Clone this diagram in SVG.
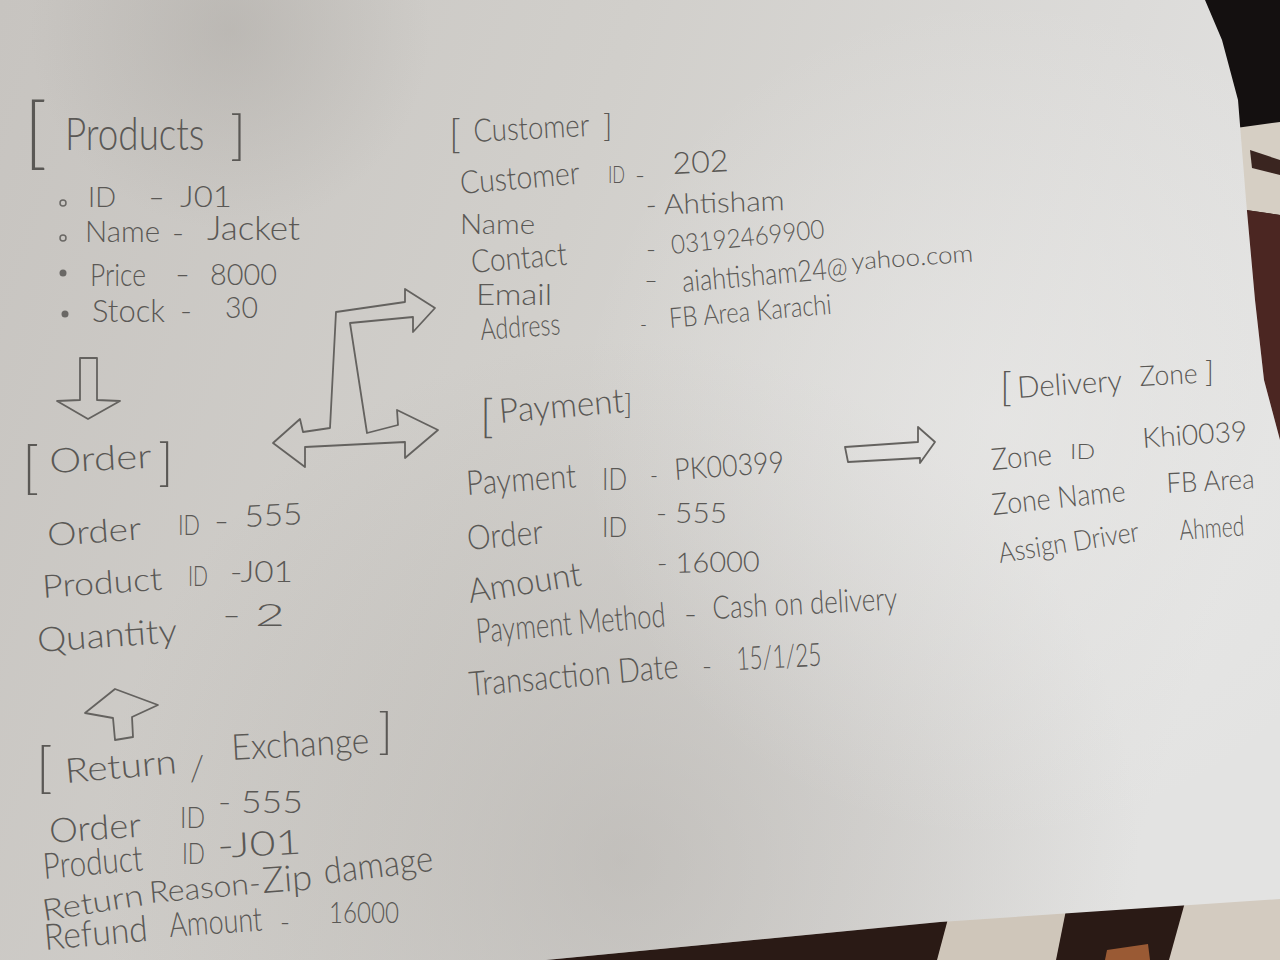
<svg xmlns="http://www.w3.org/2000/svg" width="1280" height="960" viewBox="0 0 1280 960">
  <defs>
    <style>
      .t { font-family: Lato, "Open Sans", "DejaVu Sans", sans-serif; font-weight: 300; fill: #5a5855; }
      .a { fill: none; stroke: #64625f; stroke-width: 1.8; stroke-linejoin: round; stroke-linecap: round; }
      .dot { fill: #6a6865; }
      .ring { fill: none; stroke: #6a6865; stroke-width: 1.5; }
    </style>
    <linearGradient id="paper" x1="0" y1="0" x2="1280" y2="420" gradientUnits="userSpaceOnUse">
      <stop offset="0" stop-color="#c7c4c0"/>
      <stop offset="0.45" stop-color="#d1cfcb"/>
      <stop offset="0.8" stop-color="#dcdbd9"/>
      <stop offset="1" stop-color="#e3e3e2"/>
    </linearGradient>
    <radialGradient id="shadeLow" cx="620" cy="860" r="520" gradientUnits="userSpaceOnUse">
      <stop offset="0" stop-color="#a9a5a0" stop-opacity="0.45"/>
      <stop offset="1" stop-color="#a9a5a0" stop-opacity="0"/>
    </radialGradient>
    <radialGradient id="shadeTop" cx="230" cy="30" r="200" gradientUnits="userSpaceOnUse">
      <stop offset="0" stop-color="#9f9b96" stop-opacity="0.35"/>
      <stop offset="1" stop-color="#9f9b96" stop-opacity="0"/>
    </radialGradient>
    <radialGradient id="glow" cx="1000" cy="420" r="420" gradientUnits="userSpaceOnUse">
      <stop offset="0" stop-color="#ececeb" stop-opacity="0.55"/>
      <stop offset="1" stop-color="#ececeb" stop-opacity="0"/>
    </radialGradient>
    <polygon id="sheet" points="0,0 1205,0 1222,40 1238,100 1246,200 1255,300 1264,380 1280,440 1280,899 940,922 546,960 0,960"/>
  </defs>

  <!-- fabric underneath the sheet -->
  <rect width="1280" height="960" fill="#2a1a15"/>
  <polygon points="1180,0 1280,0 1280,135 1232,130" fill="#141010"/>
  <polygon points="1236,128 1280,122 1280,215 1246,210" fill="#d6cfc4"/>
  <polygon points="1250,150 1280,160 1280,175 1252,168" fill="#3a2520"/>
  <polygon points="1246,210 1280,215 1280,460 1262,420" fill="#4b2622"/>
  <polygon points="949,915 1067,905 1056,960 937,960" fill="#cfc6ba"/>
  <polygon points="1187,895 1280,890 1280,960 1169,960" fill="#d3cbc0"/>
  <polygon points="1107,950 1148,944 1150,960 1105,960" fill="#9a5a34"/>

  <!-- the sheet of paper -->
  <use href="#sheet" fill="url(#paper)"/>
  <use href="#sheet" fill="url(#shadeLow)"/>
  <use href="#sheet" fill="url(#shadeTop)"/>
  <use href="#sheet" fill="url(#glow)"/>

  <!-- connectors drawn as hollow pencil arrows -->
  <g id="connectors">
    <polygon class="a" points="80,358 97,358 97,400 120,401 88,419 57,401 80,400"/>
    <polygon class="a" points="336,312 405,302 405,289 435,308 413,332 413,317 350,323 367,433 398,425 397,410 438,430 405,458 405,442 305,447 305,467 273,443 300,419 303,432 330,428"/>
    <polygon class="a" points="845,447 918,442 918,427 935,442 920,463 920,458 848,462"/>
    <polygon class="a" points="115,689 158,705 132,717 133,737 115,740 113,718 85,713"/>
  </g>

  <!-- Products -->
  <g id="products">
    <text class="t" x="24" y="160" font-size="78">[</text>
    <text class="t" x="0" y="0" font-size="46" transform="translate(65 150) scale(0.8 1)">Products</text>
    <text class="t" x="230" y="154" font-size="54">]</text>
    <circle class="ring" cx="63" cy="203" r="3"/>
    <circle class="ring" cx="63" cy="238" r="3"/>
    <circle class="dot" cx="63" cy="273" r="3.5"/>
    <circle class="dot" cx="65" cy="314" r="3.5"/>
    <text class="t" x="88" y="207" font-size="28" textLength="28" lengthAdjust="spacingAndGlyphs">ID</text>
    <text class="t" x="148" y="207" font-size="28" textLength="17" lengthAdjust="spacingAndGlyphs">-</text>
    <text class="t" x="180" y="207" font-size="30" textLength="52" lengthAdjust="spacingAndGlyphs">J01</text>
    <text class="t" x="85" y="242" font-size="30" textLength="75" lengthAdjust="spacingAndGlyphs">Name</text>
    <text class="t" x="172" y="243" font-size="30" textLength="12" lengthAdjust="spacingAndGlyphs">-</text>
    <text class="t" x="207" y="240" font-size="34" textLength="93" lengthAdjust="spacingAndGlyphs">Jacket</text>
    <text class="t" x="90" y="286" font-size="32" textLength="56" lengthAdjust="spacingAndGlyphs">Price</text>
    <text class="t" x="175" y="284" font-size="30" textLength="15" lengthAdjust="spacingAndGlyphs">-</text>
    <text class="t" x="210" y="285" font-size="30" textLength="67" lengthAdjust="spacingAndGlyphs">8000</text>
    <text class="t" x="92" y="322" font-size="32" textLength="73" lengthAdjust="spacingAndGlyphs">Stock</text>
    <text class="t" x="180" y="321" font-size="30" textLength="12" lengthAdjust="spacingAndGlyphs">-</text>
    <text class="t" x="225" y="318" font-size="30" textLength="33" lengthAdjust="spacingAndGlyphs">30</text>
  </g>

  <!-- Order -->
  <g id="order">
    <text class="t" x="22" y="487" font-size="58">[</text>
    <text class="t" x="50" y="473" font-size="34" textLength="102" lengthAdjust="spacingAndGlyphs" transform="rotate(-3 50 473)">Order</text>
    <text class="t" x="158" y="480" font-size="52">]</text>
    <text class="t" x="48" y="546" font-size="32" textLength="94" lengthAdjust="spacingAndGlyphs" transform="rotate(-4 48 546)">Order</text>
    <text class="t" x="178" y="535" font-size="28" textLength="22" lengthAdjust="spacingAndGlyphs">ID</text>
    <text class="t" x="214" y="531" font-size="28" textLength="15" lengthAdjust="spacingAndGlyphs">-</text>
    <text class="t" x="245" y="527" font-size="30" textLength="58" lengthAdjust="spacingAndGlyphs" transform="rotate(-3 245 527)">555</text>
    <text class="t" x="43" y="598" font-size="32" textLength="120" lengthAdjust="spacingAndGlyphs" transform="rotate(-4 43 598)">Product</text>
    <text class="t" x="188" y="586" font-size="28" textLength="20" lengthAdjust="spacingAndGlyphs">ID</text>
    <text class="t" x="230" y="582" font-size="30" textLength="63" lengthAdjust="spacingAndGlyphs">-J01</text>
    <text class="t" x="38" y="652" font-size="34" textLength="140" lengthAdjust="spacingAndGlyphs" transform="rotate(-4 38 652)">Quantity</text>
    <text class="t" x="222" y="626" font-size="32" textLength="63" lengthAdjust="spacingAndGlyphs">- 2</text>
  </g>

  <!-- Return / Exchange -->
  <g id="return-exchange">
    <text class="t" x="36" y="787" font-size="56">[</text>
    <text class="t" x="66" y="783" font-size="34" textLength="112" lengthAdjust="spacingAndGlyphs" transform="rotate(-5 66 783)">Return</text>
    <text class="t" x="190" y="781" font-size="36" textLength="14" lengthAdjust="spacingAndGlyphs">/</text>
    <text class="t" x="232" y="760" font-size="36" textLength="138" lengthAdjust="spacingAndGlyphs" transform="rotate(-3 232 760)">Exchange</text>
    <text class="t" x="378" y="748" font-size="50">]</text>
    <text class="t" x="50" y="843" font-size="34" textLength="92" lengthAdjust="spacingAndGlyphs" transform="rotate(-4 50 843)">Order</text>
    <text class="t" x="180" y="828" font-size="30" textLength="25" lengthAdjust="spacingAndGlyphs">ID</text>
    <text class="t" x="218" y="813" font-size="32" textLength="85" lengthAdjust="spacingAndGlyphs">- 555</text>
    <text class="t" x="44" y="879" font-size="36" textLength="100" lengthAdjust="spacingAndGlyphs" transform="rotate(-5 44 879)">Product</text>
    <text class="t" x="182" y="864" font-size="30" textLength="23" lengthAdjust="spacingAndGlyphs">ID</text>
    <text class="t" x="218" y="858" font-size="34" textLength="84" lengthAdjust="spacingAndGlyphs" transform="rotate(-3 218 858)">-J01</text>
    <text class="t" x="44" y="921" font-size="30" textLength="102" lengthAdjust="spacingAndGlyphs" transform="rotate(-9 44 921)">Return</text>
    <text class="t" x="150" y="903" font-size="30" textLength="112" lengthAdjust="spacingAndGlyphs" transform="rotate(-5 150 903)">Reason-</text>
    <text class="t" x="263" y="893" font-size="36" textLength="50" lengthAdjust="spacingAndGlyphs" transform="rotate(-4 263 893)">Zip</text>
    <text class="t" x="325" y="884" font-size="36" textLength="110" lengthAdjust="spacingAndGlyphs" transform="rotate(-7 325 884)">damage</text>
    <text class="t" x="45" y="950" font-size="36" textLength="104" lengthAdjust="spacingAndGlyphs" transform="rotate(-5 45 950)">Refund</text>
    <text class="t" x="170" y="937" font-size="34" textLength="93" lengthAdjust="spacingAndGlyphs" transform="rotate(-4 170 937)">Amount</text>
    <text class="t" x="280" y="932" font-size="30" textLength="10" lengthAdjust="spacingAndGlyphs">-</text>
    <text class="t" x="329" y="923" font-size="30" textLength="70" lengthAdjust="spacingAndGlyphs">16000</text>
  </g>

  <!-- Customer -->
  <g id="customer">
    <text class="t" x="449" y="148" font-size="40">[</text>
    <text class="t" x="474" y="142" font-size="32" textLength="116" lengthAdjust="spacingAndGlyphs" transform="rotate(-3 474 142)">Customer</text>
    <text class="t" x="603" y="137" font-size="32">]</text>
    <text class="t" x="461" y="194" font-size="32" textLength="120" lengthAdjust="spacingAndGlyphs" transform="rotate(-5 461 194)">Customer</text>
    <text class="t" x="608" y="183" font-size="24" textLength="17" lengthAdjust="spacingAndGlyphs">ID</text>
    <text class="t" x="635" y="184" font-size="26" textLength="10" lengthAdjust="spacingAndGlyphs">-</text>
    <text class="t" x="673" y="174" font-size="30" textLength="56" lengthAdjust="spacingAndGlyphs" transform="rotate(-3 673 174)">202</text>
    <text class="t" x="460" y="234" font-size="28" textLength="75" lengthAdjust="spacingAndGlyphs">Name</text>
    <text class="t" x="646" y="215" font-size="28" textLength="139" lengthAdjust="spacingAndGlyphs" transform="rotate(-2 646 215)">- Ahtisham</text>
    <text class="t" x="472" y="273" font-size="32" textLength="96" lengthAdjust="spacingAndGlyphs" transform="rotate(-5 472 273)">Contact</text>
    <text class="t" x="646" y="258" font-size="26" textLength="10" lengthAdjust="spacingAndGlyphs">-</text>
    <text class="t" x="672" y="254" font-size="26" textLength="154" lengthAdjust="spacingAndGlyphs" transform="rotate(-6 672 254)">03192469900</text>
    <text class="t" x="476" y="305" font-size="30" textLength="76" lengthAdjust="spacingAndGlyphs">Email</text>
    <text class="t" x="644" y="289" font-size="26" textLength="14" lengthAdjust="spacingAndGlyphs">-</text>
    <text class="t" x="683" y="292" font-size="30" textLength="166" lengthAdjust="spacingAndGlyphs" transform="rotate(-5 683 292)">aiahtisham24@</text>
    <text class="t" x="852" y="270" font-size="24" textLength="122" lengthAdjust="spacingAndGlyphs" transform="rotate(-4 852 270)">yahoo.com</text>
    <text class="t" x="481" y="340" font-size="30" textLength="80" lengthAdjust="spacingAndGlyphs" transform="rotate(-4 481 340)">Address</text>
    <text class="t" x="640" y="333" font-size="24" textLength="7" lengthAdjust="spacingAndGlyphs">-</text>
    <text class="t" x="670" y="328" font-size="28" textLength="163" lengthAdjust="spacingAndGlyphs" transform="rotate(-5 670 328)">FB Area Karachi</text>
  </g>

  <!-- Payment -->
  <g id="payment">
    <text class="t" x="480" y="432" font-size="46">[</text>
    <text class="t" x="500" y="423" font-size="34" textLength="125" lengthAdjust="spacingAndGlyphs" transform="rotate(-5 500 423)">Payment</text>
    <text class="t" x="624" y="414" font-size="28">]</text>
    <text class="t" x="467" y="495" font-size="34" textLength="110" lengthAdjust="spacingAndGlyphs" transform="rotate(-4 467 495)">Payment</text>
    <text class="t" x="602" y="490" font-size="32" textLength="25" lengthAdjust="spacingAndGlyphs">ID</text>
    <text class="t" x="650" y="484" font-size="26" textLength="8" lengthAdjust="spacingAndGlyphs">-</text>
    <text class="t" x="675" y="480" font-size="30" textLength="110" lengthAdjust="spacingAndGlyphs" transform="rotate(-4 675 480)">PK00399</text>
    <text class="t" x="468" y="550" font-size="34" textLength="76" lengthAdjust="spacingAndGlyphs" transform="rotate(-5 468 550)">Order</text>
    <text class="t" x="602" y="537" font-size="28" textLength="25" lengthAdjust="spacingAndGlyphs">ID</text>
    <text class="t" x="656" y="523" font-size="28" textLength="71" lengthAdjust="spacingAndGlyphs">- 555</text>
    <text class="t" x="470" y="603" font-size="34" textLength="114" lengthAdjust="spacingAndGlyphs" transform="rotate(-9 470 603)">Amount</text>
    <text class="t" x="657" y="573" font-size="28" textLength="103" lengthAdjust="spacingAndGlyphs" transform="rotate(-1 657 573)">- 16000</text>
    <text class="t" x="477" y="643" font-size="34" textLength="190" lengthAdjust="spacingAndGlyphs" transform="rotate(-5 477 643)">Payment Method</text>
    <text class="t" x="684" y="624" font-size="30" textLength="13" lengthAdjust="spacingAndGlyphs">-</text>
    <text class="t" x="713" y="619" font-size="32" textLength="185" lengthAdjust="spacingAndGlyphs" transform="rotate(-3 713 619)">Cash on delivery</text>
    <text class="t" x="470" y="696" font-size="34" textLength="210" lengthAdjust="spacingAndGlyphs" transform="rotate(-5 470 696)">Transaction Date</text>
    <text class="t" x="702" y="676" font-size="28" textLength="10" lengthAdjust="spacingAndGlyphs">-</text>
    <text class="t" x="737" y="670" font-size="32" textLength="85" lengthAdjust="spacingAndGlyphs" transform="rotate(-3 737 670)">15/1/25</text>
  </g>

  <!-- Delivery Zone -->
  <g id="delivery-zone">
    <text class="t" x="1000" y="401" font-size="40">[</text>
    <text class="t" x="1018" y="398" font-size="30" textLength="105" lengthAdjust="spacingAndGlyphs" transform="rotate(-4 1018 398)">Delivery</text>
    <text class="t" x="1140" y="386" font-size="28" textLength="58" lengthAdjust="spacingAndGlyphs" transform="rotate(-3 1140 386)">Zone</text>
    <text class="t" x="1205" y="382" font-size="30">]</text>
    <text class="t" x="992" y="470" font-size="30" textLength="61" lengthAdjust="spacingAndGlyphs" transform="rotate(-5 992 470)">Zone</text>
    <text class="t" x="1070" y="459" font-size="22" textLength="25" lengthAdjust="spacingAndGlyphs">ID</text>
    <text class="t" x="1143" y="448" font-size="28" textLength="105" lengthAdjust="spacingAndGlyphs" transform="rotate(-4 1143 448)">Khi0039</text>
    <text class="t" x="993" y="515" font-size="30" textLength="134" lengthAdjust="spacingAndGlyphs" transform="rotate(-6 993 515)">Zone Name</text>
    <text class="t" x="1167" y="493" font-size="28" textLength="88" lengthAdjust="spacingAndGlyphs" transform="rotate(-3 1167 493)">FB Area</text>
    <text class="t" x="1000" y="563" font-size="28" textLength="142" lengthAdjust="spacingAndGlyphs" transform="rotate(-9 1000 563)">Assign Driver</text>
    <text class="t" x="1180" y="540" font-size="28" textLength="65" lengthAdjust="spacingAndGlyphs" transform="rotate(-4 1180 540)">Ahmed</text>
  </g>
</svg>
